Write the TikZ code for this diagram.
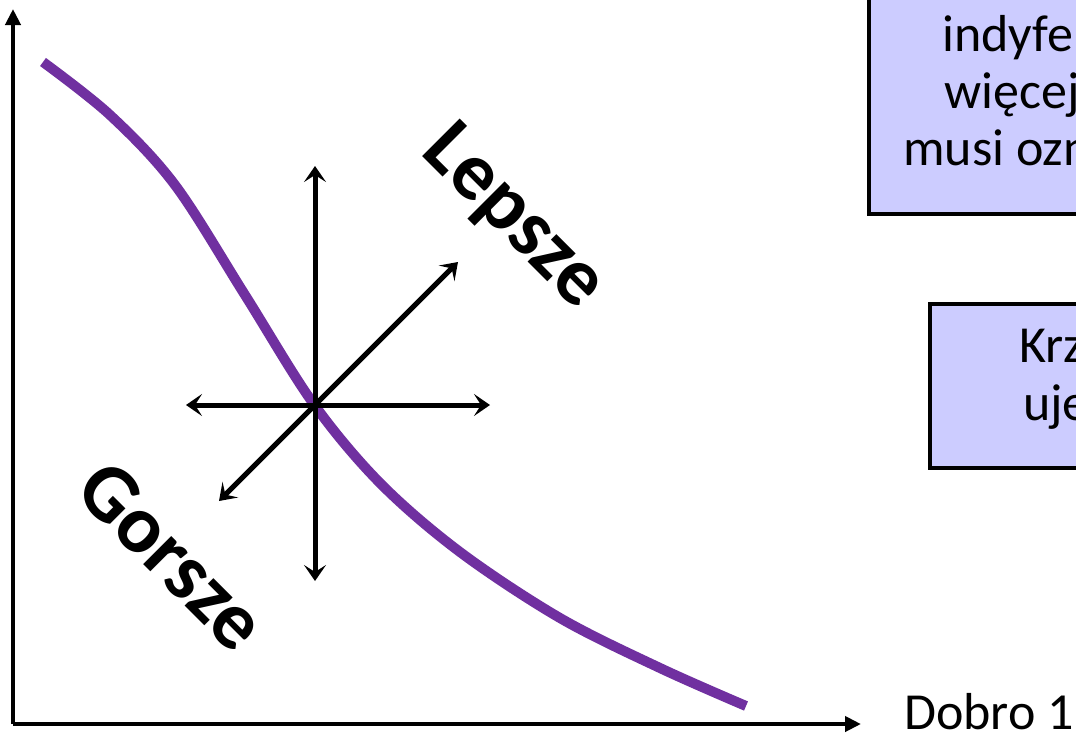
\documentclass[tikz,border=0pt]{standalone}
\usepackage{fontspec}
\setmainfont{Carlito}
\usetikzlibrary{arrows.meta}
\definecolor{curvepurple}{HTML}{7030A0}
\definecolor{boxfill}{HTML}{CCCCFF}
\tikzset{
  axis/.style={line width=4pt, -{Triangle[length=16pt,width=15pt]}},
  dir/.style={line width=5pt, {Stealth[length=16pt,width=22pt,inset=7pt]}-{Stealth[length=16pt,width=22pt,inset=7pt]}},
  curve/.style={line width=10pt, curvepurple},
  infobox/.style={draw=black, line width=3.5pt, fill=boxfill, anchor=north west, inner sep=0pt},
  boxtext/.style={anchor=base west, font=\fontsize{52pt}{58pt}\selectfont, inner sep=0pt},
  biglabel/.style={font=\fontsize{82pt}{94pt}\selectfont\bfseries, rotate=-45, inner sep=0pt},
}
\begin{document}
\begin{tikzpicture}[x=1pt,y=-1pt]
\useasboundingbox (0,0) rectangle (1076,737);
\clip (0,0) rectangle (1076,737);
\fill[white] (0,0) rectangle (1076,737);
% axes
\coordinate (O) at (13,724);
\coordinate (ytip) at (13,9);
\coordinate (xtip) at (861,724);
\draw[axis] (O) -- (ytip);
\draw[axis] (O) -- (xtip);
\node[anchor=base west, font=\fontsize{52pt}{60pt}\selectfont, inner sep=0pt] (dobro) at (904,729) {Dobro 1};
% indifference curve
\draw[curve] plot[smooth, tension=0.55] coordinates {(43,62) (110,115) (175,185) (245,295) (313,403) (380,483) (460,552) (560,618) (660,668) (746,706)};
% cross of directions
\coordinate (c) at (315,405);
\coordinate (up) at (315,166);
\coordinate (down) at (315,581);
\coordinate (left) at (186,405);
\coordinate (right) at (490,405);
\coordinate (ur) at (458,262);
\coordinate (dl) at (219,501);
\draw[dir] (down) -- (up);
\draw[dir] (left) -- (right);
\draw[dir] (dl) -- (ur);
% labels
\node[biglabel] (lepsze) at (513,218) {Lepsze};
\node[biglabel] (gorsze) at (172,556) {Gorsze};
% info boxes (cut off by the picture edge)
\node[infobox, minimum width=300pt, minimum height=240pt] (box1) at (867,-28) {};
\node[boxtext] (t1) at (942,51) {indyfe};
\node[boxtext] (t2) at (944,108) {więcej};
\node[boxtext] (t3) at (903,165) {musi ozn};
\node[infobox, minimum width=250pt, minimum height=164pt] (box2) at (928,302) {};
\node[boxtext] (t4) at (1019,362) {Krz};
\node[boxtext] (t5) at (1023,420) {uje};
\end{tikzpicture}
\end{document}
